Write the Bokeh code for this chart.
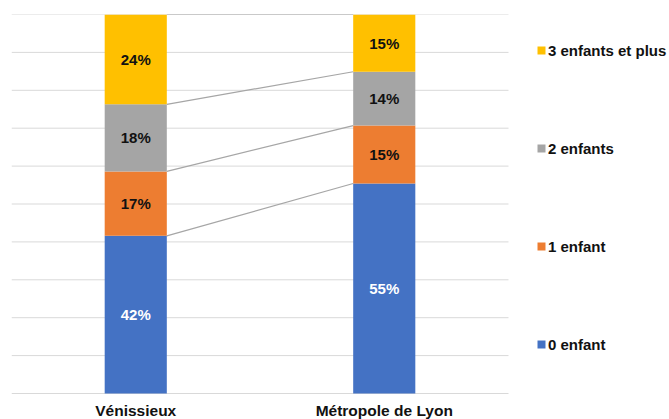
from bokeh.plotting import figure
from bokeh.models import Range1d, Legend, LegendItem, ColumnDataSource
from bokeh.core.properties import value
from bokeh.embed import file_html
from bokeh.resources import INLINE

# ---- data ----
places = ["Vénissieux", "Métropole de Lyon"]
series = ["0 enfant", "1 enfant", "2 enfants", "3 enfants et plus"]
venissieux = [41.6, 17.0, 17.7, 23.7]
metropole = [55.4, 15.3, 14.2, 15.1]
colors = ["#4472C4", "#ED7D31", "#A5A5A5", "#FFC000"]
label_colors = ["white", "#111111", "#111111", "#111111"]
yticks = [0, 10, 20, 30, 40, 50, 60, 70, 80, 90, 100]

FONT = "Liberation Sans"
BAR_W = 0.25
PLOT_W, PLOT_H = 669, 419
LEFT, TOP = 11, 14
GRID_W_PX = 497        # width of the gridded chart area in px
GRID_H_PX = 379        # height of 0..100 in px
N = len(places)

y_low = -100 * (PLOT_H - TOP - GRID_H_PX) / GRID_H_PX
p = figure(width=PLOT_W, height=PLOT_H, output_backend="svg", toolbar_location=None,
           x_range=Range1d(0, N * (PLOT_W - LEFT) / GRID_W_PX), y_range=Range1d(y_low, 100))
p.min_border = 0
p.min_border_left = LEFT
p.min_border_right = 0
p.min_border_top = TOP
p.min_border_bottom = 0
p.outline_line_color = None
p.background_fill_color = "white"
p.border_fill_color = "white"
p.xgrid.visible = False
p.ygrid.visible = False
p.xaxis.visible = False
p.yaxis.visible = False

xs = [i + 0.5 for i in range(N)]
data = {"x": xs}
for k, s in enumerate(series):
    data[s] = [venissieux[k], metropole[k]]
src = ColumnDataSource(data)

# horizontal gridlines over the category area only
p.segment(x0=[0] * len(yticks), x1=[N] * len(yticks), y0=yticks, y1=yticks,
          line_color="#d9d9d9", line_width=1)

# category labels under the bars
p.text(x=xs, y=[0] * N, text=places, y_offset=8, text_align="center",
       text_baseline="top", text_color="#111111", text_font=value(FONT),
       text_font_style="bold", text_font_size="15.5px")

# connector (series) lines between bars
cum_v = [sum(venissieux[:k + 1]) for k in range(len(series))]
cum_m = [sum(metropole[:k + 1]) for k in range(len(series))]
p.segment(x0=[xs[0] + BAR_W / 2] * len(series), y0=cum_v,
          x1=[xs[1] - BAR_W / 2] * len(series), y1=cum_m,
          line_color="#a6a6a6", line_width=1.2)

# stacked bars
rs = p.vbar_stack(series, x="x", width=BAR_W, color=colors, source=src, line_color=None)

# value labels
lx, ly, lt, lc = [], [], [], []
for vals, x in ((venissieux, xs[0]), (metropole, xs[1])):
    base = 0
    for k, v in enumerate(vals):
        lx.append(x)
        ly.append(base + v / 2)
        lt.append(f"{round(v)}%")
        lc.append(label_colors[k])
        base += v
p.text(x=lx, y=ly, text=lt, text_color=lc, text_align="center", text_baseline="middle",
       text_font=value(FONT), text_font_style="bold", text_font_size="15px")

# legend
items = [LegendItem(label=series[k], renderers=[rs[k]]) for k in reversed(range(len(series)))]
legend = Legend(items=items, location=(525, 65), orientation="vertical",
                glyph_width=10, glyph_height=10, label_height=20, spacing=78,
                label_standoff=2, padding=0, margin=0,
                border_line_color=None, background_fill_alpha=0,
                label_text_font=FONT, label_text_font_style="bold",
                label_text_font_size="15px", label_text_color="#111111")
p.add_layout(legend, "center")

open("out.html", "w").write(file_html(p, INLINE))
